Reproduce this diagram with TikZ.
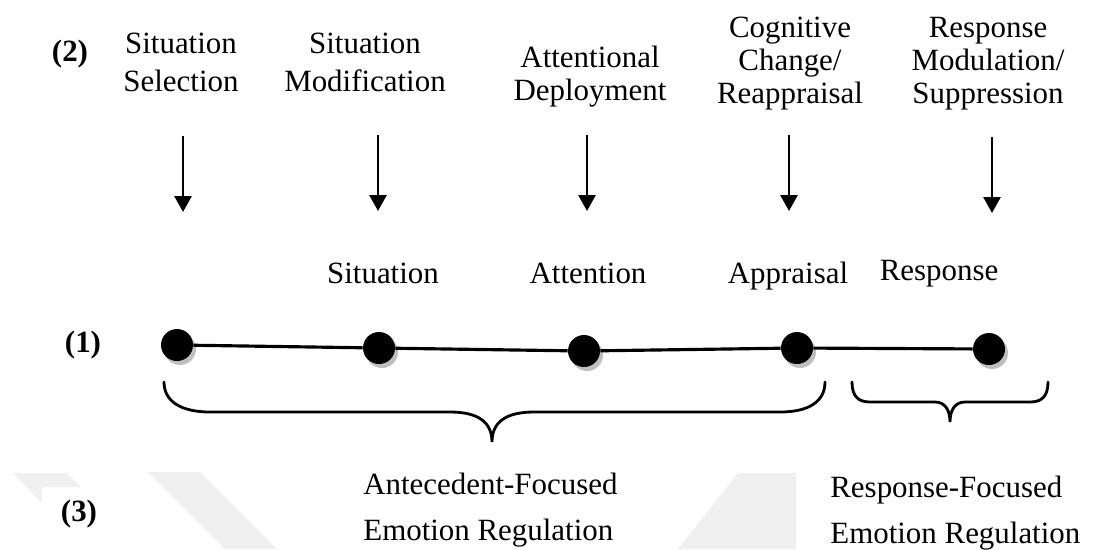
\documentclass[tikz,border=0pt]{standalone}
\usepackage{fontspec}
\setmainfont{Liberation Serif}
\usetikzlibrary{arrows.meta}
\newcommand\fsA{\fontsize{17.6}{22.1}\selectfont}
\newcommand\fsB{\fontsize{17.6}{18.8}\selectfont}
\newcommand\fsC{\fontsize{17.6}{26.7}\selectfont}
\newcommand\stkc[1]{\begin{tabular}[t]{@{}c@{}}#1\end{tabular}}
\newcommand\stkl[1]{\begin{tabular}[t]{@{}l@{}}#1\end{tabular}}
\begin{document}
\begin{tikzpicture}[x=0.02cm,y=-0.02cm,
  lab/.style={inner sep=0pt, anchor=base},
  num/.style={inner sep=0pt, anchor=base, font=\fsA\bfseries},
  arrowline/.style={line width=1.6pt, -{Triangle[width=0.34cm,length=0.32cm]}},
  dotnode/.style={circle, fill=black, inner sep=0pt, minimum size=0.64cm,
    preaction={fill=black!25, transform canvas={xshift=0.06cm,yshift=-0.08cm}}},
  timeline/.style={line width=1.8pt},
  bracepath/.style={line width=1.6pt, line cap=round},
  wmark/.style={fill=black!6, draw=none}]
\useasboundingbox (0,0) rectangle (1094,549);
% faint background watermark
\fill[wmark] (13,473) -- (67,473) -- (81,487) -- (42,487) -- (42,503) -- cycle;
\fill[wmark] (148,472) -- (200,472) -- (277,549) -- (225,549) -- cycle;
\fill[wmark] (738,473) -- (796,473) -- (796,549) -- (678,549) -- cycle;

% row (2)
\node[num] (n2) at (70,61) {(2)};
\node[lab, font=\fsA] (t1) at (181,53) {\stkc{Situation\\Selection}};
\node[lab, font=\fsA] (t2) at (365,53) {\stkc{Situation\\Modification}};
\node[lab, font=\fsB] (t3) at (590,67) {\stkc{Attentional\\Deployment}};
\node[lab, font=\fsB] (t4) at (790,37) {\stkc{Cognitive\\Change/\\Reappraisal}};
\node[lab, font=\fsB] (t5) at (988,37) {\stkc{Response\\Modulation/\\Suppression}};

% arrows
\coordinate (a1s) at (183,136); \coordinate (a1e) at (183,212);
\coordinate (a2s) at (378,135); \coordinate (a2e) at (378,211);
\coordinate (a3s) at (587,135); \coordinate (a3e) at (587,211);
\coordinate (a4s) at (789,135); \coordinate (a4e) at (789,211);
\coordinate (a5s) at (992,137); \coordinate (a5e) at (992,213);
\draw[arrowline] (a1s) -- (a1e);
\draw[arrowline] (a2s) -- (a2e);
\draw[arrowline] (a3s) -- (a3e);
\draw[arrowline] (a4s) -- (a4e);
\draw[arrowline] (a5s) -- (a5e);

% middle labels
\node[lab, font=\fsA] (m1) at (383,283) {Situation};
\node[lab, font=\fsA] (m2) at (588,283) {Attention};
\node[lab, font=\fsA] (m3) at (788,283) {Appraisal};
\node[lab, font=\fsA] (m4) at (939,280) {Response};

% row (1)
\node[num] (n1) at (83,352) {(1)};
\node[dotnode] (d1) at (177,345) {};
\node[dotnode] (d2) at (379,348) {};
\node[dotnode] (d3) at (584,351) {};
\node[dotnode] (d4) at (797,348) {};
\node[dotnode] (d5) at (989,349) {};
\draw[timeline] (d1) -- (d2);
\draw[timeline] (d2) -- (d3);
\draw[timeline] (d3) -- (d4);
\draw[timeline] (d4) -- (d5);

% braces
\coordinate (bl) at (164,382); \coordinate (bc) at (492,442); \coordinate (br) at (825,382);
\draw[bracepath] (bl) .. controls (164,402) and (182,412) .. (210,412) -- (450,412)
  .. controls (478,412) and (492,422) .. (bc)
  .. controls (492,422) and (506,412) .. (534,412) -- (780,412)
  .. controls (808,412) and (825,402) .. (br);
\coordinate (sl) at (852,382); \coordinate (sc) at (950,422); \coordinate (sr) at (1048,382);
\draw[bracepath] (sl) .. controls (852,396) and (858,402) .. (870,402) -- (935,402)
  .. controls (945,402) and (950,410) .. (sc)
  .. controls (950,410) and (955,402) .. (965,402) -- (1030,402)
  .. controls (1042,402) and (1048,396) .. (sr);

% row (3)
\node[num] (n3) at (79,521) {(3)};
\node[lab, anchor=base west, font=\fsC] (b1) at (363,494) {\stkl{Antecedent-Focused\\Emotion Regulation}};
\node[lab, anchor=base west, font=\fsC] (b2) at (830,497) {\stkl{Response-Focused\\Emotion Regulation}};
\end{tikzpicture}
\end{document}
